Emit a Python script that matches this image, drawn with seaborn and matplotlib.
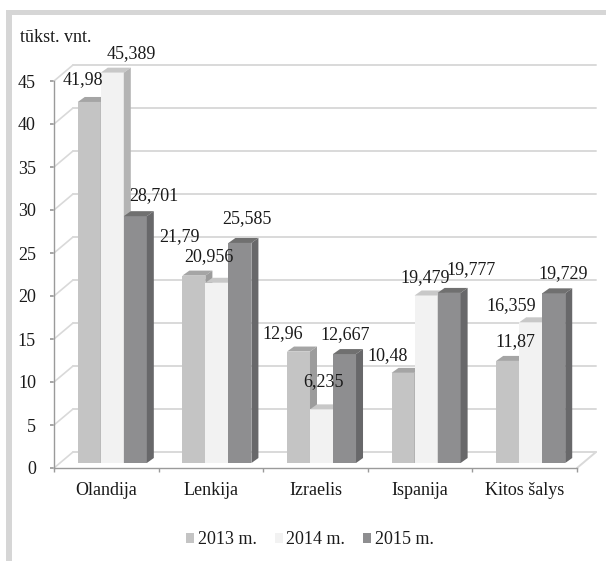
import pandas as pd
import matplotlib.pyplot as plt
import seaborn as sns
from matplotlib.patches import Polygon, Rectangle, Patch
from matplotlib.transforms import offset_copy

# DATA
categories = ['Olandija', 'Lenkija', 'Izraelis', 'Ispanija', 'Kitos šalys']
years = ['2013 m.', '2014 m.', '2015 m.']
v2013 = [41.98, 21.79, 12.96, 10.48, 11.87]
v2014 = [45.389, 20.956, 6.235, 19.479, 16.359]
v2015 = [28.701, 25.585, 12.667, 19.777, 19.729]
y_ticks = [0, 5, 10, 15, 20, 25, 30, 35, 40, 45]
unit_label = 'tūkst. vnt.'

# label nudges (pixels, image-style: +x right, +y down) - excel put them all over the place
label_nudge = [
    [(-6, -22), (-14, -39), (-16, -18), (-15, -17), (8, -19)],
    [(19, -19), (-8, -26), (2, -28), (-1, -18), (-19, -17)],
    [(19, -21), (7, -24), (1, -19), (22, -23), (9, -20)],
]

# colours: front, top, side
front_cols = ['#c4c4c4', '#f2f2f2', '#8e8e90']
top_cols = ['#a5a5a5', '#c8c8c8', '#707070']
side_cols = ['#9c9c9c', '#b4b4b4', '#68686a']

df = pd.DataFrame({
    'country': categories * 3,
    'year': [years[0]] * 5 + [years[1]] * 5 + [years[2]] * 5,
    'value': v2013 + v2014 + v2015,
})

sns.set_theme(style='white')
plt.rcParams['font.family'] = ['Liberation Serif', 'DejaVu Serif']
plt.rcParams['text.color'] = '#1a1a1a'
FS = 13

W, H = 606, 561
fig = plt.figure(figsize=(W / 100, H / 100), dpi=100)
ax = fig.add_axes([54 / W, (H - 468) / H, (577 - 54) / W, (468 - 81) / H])

sns.barplot(data=df, x='country', y='value', hue='year', order=categories,
            hue_order=years, palette=front_cols, saturation=1, width=0.66,
            gap=0, legend=False, ax=ax, linewidth=0, errorbar=None)

ax.set_xlim(-0.5, 4.5)
ax.set_ylim(0, 45)

# pixel -> data scale
p0 = ax.transData.transform((0, 0))
p1 = ax.transData.transform((1, 1))
sx, sy = p1[0] - p0[0], p1[1] - p0[1]
bdx, bdy = 7 / sx, 5 / sy      # bar depth
wdx, wdy = 19 / sx, 16 / sy    # wall depth

grid_c = '#d9d9d9'
axis_c = '#9a9a9a'

# back wall gridlines + side diagonals
for t in y_ticks:
    ax.plot([-0.5 + wdx, 4.5 + wdx], [t + wdy, t + wdy], color=grid_c, lw=1.4,
            clip_on=False, zorder=1)
    ax.plot([-0.5, -0.5 + wdx], [t, t + wdy], color=grid_c, lw=1.2,
            clip_on=False, zorder=1)
ax.plot([4.5, 4.5 + wdx], [0, wdy], color=grid_c, lw=1.4, clip_on=False, zorder=1)

# 3d bars
front_tr = offset_copy(ax.transData, fig=fig, x=6, y=5, units='dots')
for j, cont in enumerate(ax.containers):
    for i, bar in enumerate(cont):
        bar.set_transform(front_tr)
        bar.set_zorder(3 + j)
        bar.set_clip_on(False)
        x, w, h = bar.get_x(), bar.get_width(), bar.get_height()
        top = Polygon([(x, h), (x + w, h), (x + w + bdx, h + bdy), (x + bdx, h + bdy)],
                      closed=True, facecolor=top_cols[j], edgecolor='none',
                      transform=front_tr, zorder=3 + j, clip_on=False)
        side = Polygon([(x + w, 0), (x + w, h), (x + w + bdx, h + bdy), (x + w + bdx, bdy)],
                       closed=True, facecolor=side_cols[j], edgecolor='none',
                       transform=front_tr, zorder=3 + j, clip_on=False)
        ax.add_patch(top)
        ax.add_patch(side)
        dx, dy = label_nudge[j][i]
        ax.annotate(f'{h:g}'.replace('.', ','), xy=(x + w / 2, h),
                    xytext=(dx + 6, -dy + 5), textcoords='offset pixels',
                    ha='center', va='center', fontsize=FS, zorder=10,
                    annotation_clip=False)

# axes styling
for s in ['top', 'right']:
    ax.spines[s].set_visible(False)
for s in ['left', 'bottom']:
    ax.spines[s].set_color(axis_c)
    ax.spines[s].set_linewidth(1)
ax.set_yticks(y_ticks)
ax.tick_params(axis='y', direction='out', length=3, color=axis_c, pad=10,
               labelsize=FS, labelcolor='#1a1a1a', left=True)
ax.set_xticks(range(len(categories)))
ax.set_xticklabels(categories)
ax.set_xticks([k - 0.5 for k in range(len(categories) + 1)], minor=True)
ax.tick_params(axis='x', which='major', length=0, pad=10, labelsize=FS,
               labelcolor='#1a1a1a')
ax.tick_params(axis='x', which='minor', direction='out', length=3, color=axis_c,
               bottom=True)
ax.set_xlabel('')
ax.set_ylabel('')
ax.grid(False)

# unit label
fig.text(20 / W, 1 - 37 / H, unit_label, ha='left', va='center', fontsize=FS)

# legend
handles = [Patch(facecolor=c, edgecolor='none') for c in front_cols]
fig.legend(handles, years, loc='center', bbox_to_anchor=(310 / W, 1 - 540 / H),
           ncol=3, frameon=False, fontsize=FS, handlelength=0.45,
           handleheight=0.45, handletextpad=0.2, columnspacing=1.0)

# grey chart frame (top and left only, the rest is cropped)
fig.add_artist(Rectangle((6 / W, 0), 6 / W, (H - 10) / H, transform=fig.transFigure,
                         facecolor='#d6d6d6', edgecolor='none'))
fig.add_artist(Rectangle((6 / W, (H - 15) / H), (W - 6) / W, 5 / H,
                         transform=fig.transFigure, facecolor='#d6d6d6',
                         edgecolor='none'))

plt.savefig('out.png', dpi=100)
